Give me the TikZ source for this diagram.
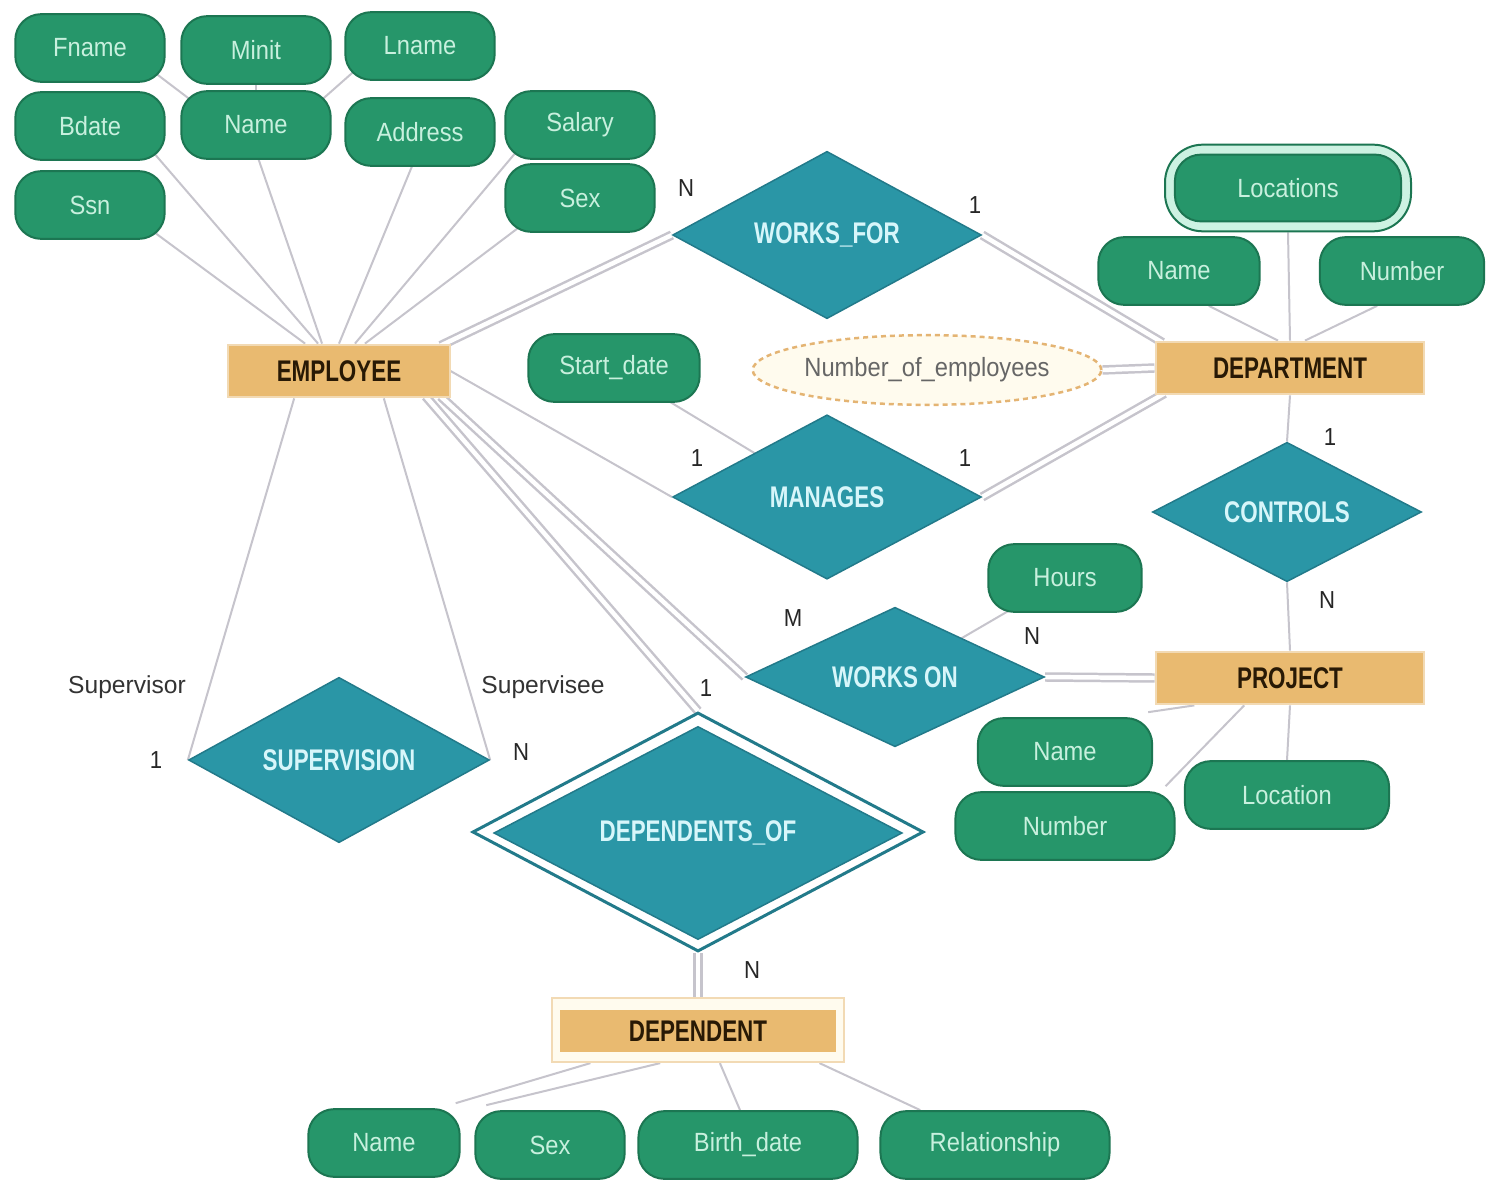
\documentclass[tikz,border=0pt]{standalone}
\usepackage{fontspec}
\setmainfont{Liberation Sans}
\newfontfamily\condA{Liberation Sans}[FakeStretch=0.9]
\newfontfamily\condB{Liberation Sans}[FakeStretch=0.75]
\usetikzlibrary{shapes.geometric,backgrounds}
\def\pxu{0.5669pt}
\definecolor{attrfill}{RGB}{38,150,106}
\definecolor{attrdraw}{RGB}{28,118,82}
\definecolor{attrtext}{RGB}{200,240,222}
\definecolor{relfill}{RGB}{42,150,166}
\definecolor{reldraw}{RGB}{34,122,138}
\definecolor{reltext}{RGB}{215,246,250}
\definecolor{entfill}{RGB}{233,186,112}
\definecolor{entdraw}{RGB}{242,218,180}
\definecolor{enttext}{RGB}{40,25,5}
\definecolor{linec}{RGB}{198,196,204}
\definecolor{cream}{RGB}{255,251,238}
\definecolor{dashc}{RGB}{228,180,115}
\definecolor{mint}{RGB}{205,242,226}
\tikzset{
  attr/.style={rectangle, rounded corners=26*\pxu, fill=attrfill, draw=attrdraw,
    line width=2*\pxu, text=attrtext, font=\condA\fontsize{15}{17}\selectfont,
    minimum width=150*\pxu, minimum height=68*\pxu, inner sep=0pt},
  ent/.style={rectangle, fill=entfill, draw=entdraw, line width=2*\pxu, text=enttext,
    font=\condB\bfseries\fontsize{17}{19}\selectfont, minimum height=53*\pxu, inner sep=0pt},
  rel/.style={diamond, fill=relfill, draw=reldraw, line width=1.5*\pxu, text=reltext,
    font=\condB\bfseries\fontsize{17}{19}\selectfont, inner sep=0pt, aspect=1.8},
  conn/.style={draw=linec, line width=2*\pxu},
  dbl/.style={draw=linec, line width=2.5*\pxu, double=white, double distance=4.5*\pxu},
  lbl/.style={text=black!85, font=\condA\fontsize{14}{16}\selectfont, inner sep=0pt},
  rlbl/.style={text=black!80, font=\fontsize{14}{16}\selectfont, inner sep=0pt},
}
\begin{document}
\begin{tikzpicture}[x=0.02cm, y=-0.02cm]
\useasboundingbox (0,0) rectangle (1487,1182);
% EMPLOYEE attributes
\node[attr] (fname) at (90,48) {Fname};
\node[attr] (minit) at (256,50) {Minit};
\node[attr] (lname) at (420,46) {Lname};
\node[attr] (bdate) at (90,126) {Bdate};
\node[attr] (ename) at (256,125) {Name};
\node[attr] (addr) at (420,132) {Address};
\node[attr] (salary) at (580,125) {Salary};
\node[attr] (ssn) at (90,205) {Ssn};
\node[attr] (esex) at (580,198) {Sex};
% entities and relationships
\node[ent, minimum width=222*\pxu] (emp) at (339,371) {EMPLOYEE};
\node[rel, minimum width=310*\pxu, minimum height=168*\pxu] (wf) at (827,235) {WORKS\_FOR};
\node[ent, minimum width=270*\pxu] (dept) at (1290,368) {DEPARTMENT};
\node[attr, minimum width=247*\pxu, minimum height=87*\pxu, rounded corners=38*\pxu, fill=mint] (locso) at (1288,188) {};
\node[attr, minimum width=227*\pxu, minimum height=67*\pxu] (locs) at (1288,188) {Locations};
\node[attr, minimum width=162*\pxu] (dname) at (1179,271) {Name};
\node[attr, minimum width=165*\pxu] (dnum) at (1402,271) {Number};
\node[ellipse, draw=dashc, fill=cream, line width=2.5*\pxu, dash pattern=on 5*\pxu off 4*\pxu,
  minimum width=350*\pxu, minimum height=70*\pxu, text=black!60,
  font=\condA\fontsize{15}{17}\selectfont, inner sep=0pt] (noe) at (927,370) {Number\_of\_employees};
\node[attr, minimum width=172*\pxu] (sdate) at (614,368) {Start\_date};
\node[rel, minimum width=310*\pxu, minimum height=165*\pxu] (man) at (827,497) {MANAGES};
\node[rel, minimum width=270*\pxu, minimum height=140*\pxu] (ctrl) at (1287,512) {CONTROLS};
\node[attr, minimum width=154*\pxu] (hours) at (1065,578) {Hours};
\node[rel, minimum width=300*\pxu, minimum height=140*\pxu] (won) at (895,677) {WORKS ON};
\node[ent, minimum width=270*\pxu] (proj) at (1290,678) {PROJECT};
\node[attr, minimum width=175*\pxu] (pname) at (1065,752) {Name};
\node[attr, minimum width=220*\pxu] (pnum) at (1065,826) {Number};
\node[attr, minimum width=205*\pxu] (ploc) at (1287,795) {Location};
\node[rel, minimum width=302*\pxu, minimum height=166*\pxu] (sup) at (339,760) {SUPERVISION};
\node[diamond, draw=reldraw, fill=white, line width=3*\pxu, minimum width=453*\pxu,
  minimum height=240*\pxu, inner sep=0pt] (depofo) at (698,832) {};
\node[rel, minimum width=410*\pxu, minimum height=214*\pxu] (depof) at (698,833) {DEPENDENTS\_OF};
\node[rectangle, draw=entdraw, fill=cream, line width=2.5*\pxu, minimum width=293*\pxu,
  minimum height=64*\pxu, inner sep=0pt] (dpto) at (698,1030) {};
\node[ent, minimum width=278*\pxu, minimum height=42*\pxu, draw=none] (dpt) at (698,1031) {DEPENDENT};
\node[attr, minimum width=152*\pxu] (dname2) at (384,1143) {Name};
\node[attr, minimum width=150*\pxu] (dsex) at (550,1145) {Sex};
\node[attr, minimum width=220*\pxu] (dbirth) at (748,1145) {Birth\_date};
\node[attr, minimum width=230*\pxu] (drel) at (995,1145) {Relationship};
% labels
\node[lbl] (l1) at (686,188) {N};
\node[lbl] (l2) at (975,205) {1};
\node[lbl] (l3) at (697,458) {1};
\node[lbl] (l4) at (965,458) {1};
\node[lbl] (l5) at (1330,437) {1};
\node[lbl] (l6) at (1327,600) {N};
\node[lbl] (l7) at (793,618) {M};
\node[lbl] (l8) at (1032,636) {N};
\node[lbl] (l9) at (706,688) {1};
\node[lbl] (l10) at (752,970) {N};
\node[rlbl] (l11) at (127,687) {Supervisor};
\node[lbl] (l12) at (156,760) {1};
\node[rlbl] (l13) at (543,687) {Supervisee};
\node[lbl] (l14) at (521,752) {N};
% connectors
\begin{pgfonlayer}{background}
\fill[white] (0,0) rectangle (1487,1182);
\draw[conn] ([xshift=-8*\pxu,yshift=8*\pxu]fname.south east) -- ([xshift=8*\pxu,yshift=-8*\pxu]ename.north west);
\draw[conn] ([xshift=8*\pxu,yshift=8*\pxu]lname.south west) -- ([xshift=-8*\pxu,yshift=-8*\pxu]ename.north east);
\draw[conn] (minit) -- (ename);
\draw[conn] ([xshift=-12*\pxu,yshift=8*\pxu]bdate.south east) -- ([xshift=-21*\pxu]emp.north);
\draw[conn] ([yshift=8*\pxu]ename.south) -- ([xshift=-17*\pxu]emp.north);
\draw[conn] ([xshift=-5*\pxu,yshift=8*\pxu]addr.south) -- ([xshift=0*\pxu]emp.north);
\draw[conn] ([xshift=12*\pxu,yshift=8*\pxu]salary.south west) -- ([xshift=16*\pxu]emp.north);
\draw[conn] ([xshift=-12*\pxu,yshift=8*\pxu]ssn.south east) -- ([xshift=-34*\pxu]emp.north);
\draw[conn] ([xshift=18*\pxu,yshift=8*\pxu]esex.south west) -- ([xshift=26*\pxu]emp.north);
\draw[dbl] ([xshift=-10*\pxu,yshift=-2*\pxu]emp.north east) -- (wf.west);
\draw[dbl] (wf.east) -- ([xshift=8*\pxu,yshift=-2*\pxu]dept.north west);
\draw[dbl] (noe.east) -- (dept.west);
\draw[conn] (emp.east) -- (man.west);
\draw[conn] (sdate.center) -- (man.center);
\draw[dbl] (man.east) -- ([xshift=10*\pxu,yshift=2*\pxu]dept.south west);
\draw[conn] (dept.south) -- (ctrl.north);
\draw[conn] (ctrl.south) -- (proj.north);
\draw[dbl] ([xshift=-10*\pxu,yshift=2*\pxu]emp.south east) -- (won.west);
\draw[conn] (hours.center) -- (won.center);
\draw[dbl] (won.east) -- (proj.west);
\draw[dbl] ([xshift=-25*\pxu,yshift=2*\pxu]emp.south east) -- (depofo.north);
\draw[dbl] (depofo.south) -- (dpto.north);
\draw[conn] ([xshift=-45*\pxu]emp.south) -- (sup.west);
\draw[conn] ([xshift=45*\pxu]emp.south) -- (sup.east);
\draw[conn] ([xshift=40*\pxu]proj.south west) -- ([xshift=-5*\pxu,yshift=5*\pxu]pname.north east);
\draw[conn] ([xshift=90*\pxu]proj.south west) -- ([xshift=-10*\pxu,yshift=5*\pxu]pnum.north east);
\draw[conn] (proj.south) -- (ploc.north);
\draw[conn] ([xshift=-12*\pxu]dept.north) -- ([xshift=30*\pxu]dname.south);
\draw[conn] ([xshift=15*\pxu]dept.north) -- ([xshift=-25*\pxu]dnum.south);
\draw[conn] (locso.south) -- (dept.north);
\draw[conn] ([xshift=-108*\pxu]dpto.south) -- ([xshift=-5*\pxu,yshift=5*\pxu]dname2.north east);
\draw[conn] ([xshift=-38*\pxu]dpto.south) -- ([xshift=12*\pxu,yshift=5*\pxu]dsex.north west);
\draw[conn] ([xshift=22*\pxu]dpto.south) -- ([xshift=-8*\pxu]dbirth.north);
\draw[conn] ([xshift=122*\pxu]dpto.south) -- ([xshift=-75*\pxu]drel.north);
\end{pgfonlayer}
\end{tikzpicture}
\end{document}
